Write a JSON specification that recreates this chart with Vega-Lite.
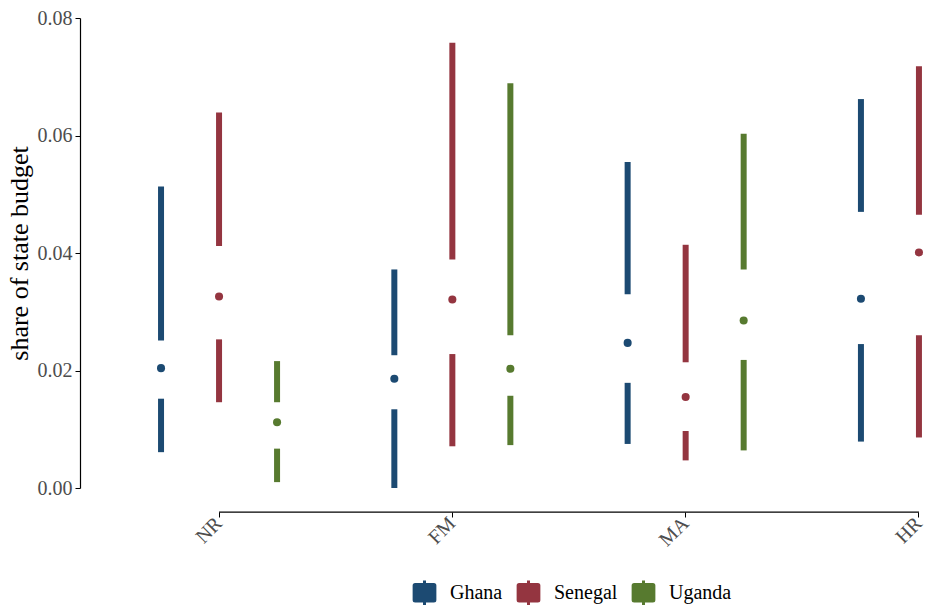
{
  "$schema": "https://vega.github.io/schema/vega-lite/v6.json",
  "autosize": {"type": "none"},
  "padding": {"left": 80, "top": 18, "right": 0, "bottom": 119},
  "width": 845,
  "height": 470,
  "background": "white",
  "config": {
    "view": {"stroke": null},
    "font": "Liberation Serif",
    "axis": {"labelFont": "Liberation Serif", "titleFont": "Liberation Serif", "grid": false},
    "legend": {"labelFont": "Liberation Serif", "titleFont": "Liberation Serif"}
  },
  "layer": [
    {
      "data": {"name": "boxes", "values": [
        {"country": "Ghana", "cat": "NR", "min": 0.0061, "q1": 0.0152, "med": 0.0204, "q3": 0.0251, "max": 0.0513},
        {"country": "Senegal", "cat": "NR", "min": 0.0146, "q1": 0.0253, "med": 0.0326, "q3": 0.0412, "max": 0.0639},
        {"country": "Uganda", "cat": "NR", "min": 0.0010, "q1": 0.0067, "med": 0.0112, "q3": 0.0146, "max": 0.0216},
        {"country": "Ghana", "cat": "FM", "min": 0.0000, "q1": 0.0134, "med": 0.0186, "q3": 0.0226, "max": 0.0372},
        {"country": "Senegal", "cat": "FM", "min": 0.0071, "q1": 0.0228, "med": 0.0321, "q3": 0.0389, "max": 0.0758},
        {"country": "Uganda", "cat": "FM", "min": 0.0073, "q1": 0.0157, "med": 0.0203, "q3": 0.0260, "max": 0.0689},
        {"country": "Ghana", "cat": "MA", "min": 0.0075, "q1": 0.0179, "med": 0.0247, "q3": 0.0330, "max": 0.0555},
        {"country": "Senegal", "cat": "MA", "min": 0.0047, "q1": 0.0097, "med": 0.0155, "q3": 0.0214, "max": 0.0414},
        {"country": "Uganda", "cat": "MA", "min": 0.0064, "q1": 0.0218, "med": 0.0285, "q3": 0.0372, "max": 0.0603},
        {"country": "Ghana", "cat": "HR", "min": 0.0079, "q1": 0.0245, "med": 0.0322, "q3": 0.0470, "max": 0.0662},
        {"country": "Senegal", "cat": "HR", "min": 0.0086, "q1": 0.0260, "med": 0.0401, "q3": 0.0465, "max": 0.0718}
      ]},
      "encoding": {
        "x": {
          "field": "cat", "type": "nominal", "sort": ["NR", "FM", "MA", "HR"],
          "scale": {"domain": ["NR", "FM", "MA", "HR"], "range": [0, 978], "paddingInner": 0.254, "paddingOuter": 0.223},
          "axis": {
            "title": null, "domain": false, "offset": 24, "tickSize": 5, "tickColor": "black", "tickWidth": 1,
            "labelAngle": -45, "labelAlign": "right", "labelBaseline": "middle", "labelFontSize": 20,
            "labelColor": "#4d4d4d", "labelPadding": 3
          }
        },
        "xOffset": {"field": "country", "type": "nominal", "scale": {"paddingInner": 0, "paddingOuter": 0}},
        "color": {
          "field": "country", "type": "nominal",
          "scale": {"domain": ["Ghana", "Senegal", "Uganda"], "range": ["#1c4a72", "#943540", "#577a2f"]},
          "legend": {
            "title": null, "orient": "none", "direction": "horizontal", "legendX": 332, "legendY": 562,
            "symbolType": "M-0.75,-0.78 L-0.12,-0.78 L-0.12,-0.98 L0.12,-0.98 L0.12,-0.78 L0.75,-0.78 Q0.95,-0.78 0.95,-0.58 L0.95,0.58 Q0.95,0.78 0.75,0.78 L0.12,0.78 L0.12,0.98 L-0.12,0.98 L-0.12,0.78 L-0.75,0.78 Q-0.95,0.78 -0.95,0.58 L-0.95,-0.58 Q-0.95,-0.78 -0.75,-0.78 Z",
            "symbolSize": 625, "symbolStrokeWidth": 0, "symbolOpacity": 1,
            "labelFont": "Liberation Serif", "labelFontSize": 20, "labelColor": "black",
            "labelOffset": 13, "columnPadding": 13, "padding": 0,
            "encode": {
              "symbols": {"update": {"fill": {"scale": "color", "field": "value"}, "stroke": {"value": "transparent"}, "opacity": {"value": 1}}},
              "labels": {"update": {"font": {"value": "Liberation Serif"}, "fontSize": {"value": 20}, "fill": {"value": "black"}}}
            }
          }
        }
      },
      "layer": [
        {
          "mark": {"type": "rule", "strokeWidth": 6, "strokeCap": "butt"},
          "encoding": {
            "y": {
              "field": "q3", "type": "quantitative",
              "scale": {"domain": [0, 0.08], "nice": false, "zero": false},
              "axis": {
                "title": "share of state budget", "titleFontSize": 26, "titleColor": "black", "titleFontWeight": "normal",
                "titlePadding": 5, "values": [0, 0.02, 0.04, 0.06, 0.08], "format": ".2f",
                "labelFontSize": 20, "labelColor": "#4d4d4d", "labelPadding": 3,
                "tickSize": 5, "tickColor": "black", "domainColor": "black", "domainWidth": 1.2
              }
            },
            "y2": {"field": "max"}
          }
        },
        {
          "mark": {"type": "rule", "strokeWidth": 6, "strokeCap": "butt"},
          "encoding": {
            "y": {"field": "min", "type": "quantitative"},
            "y2": {"field": "q1"}
          }
        },
        {
          "mark": {"type": "point", "filled": true, "size": 65, "opacity": 1, "shape": "circle"},
          "encoding": {
            "y": {"field": "med", "type": "quantitative"}
          }
        }
      ]
    },
    {
      "data": {"values": [{"from": "NR", "to": "HR"}]},
      "mark": {"type": "rule", "color": "black", "strokeWidth": 1.2},
      "encoding": {
        "x": {"field": "from", "type": "nominal", "bandPosition": 0.5},
        "x2": {"field": "to", "bandPosition": 0.5},
        "y": {"datum": -0.00409, "type": "quantitative"}
      }
    }
  ]
}
